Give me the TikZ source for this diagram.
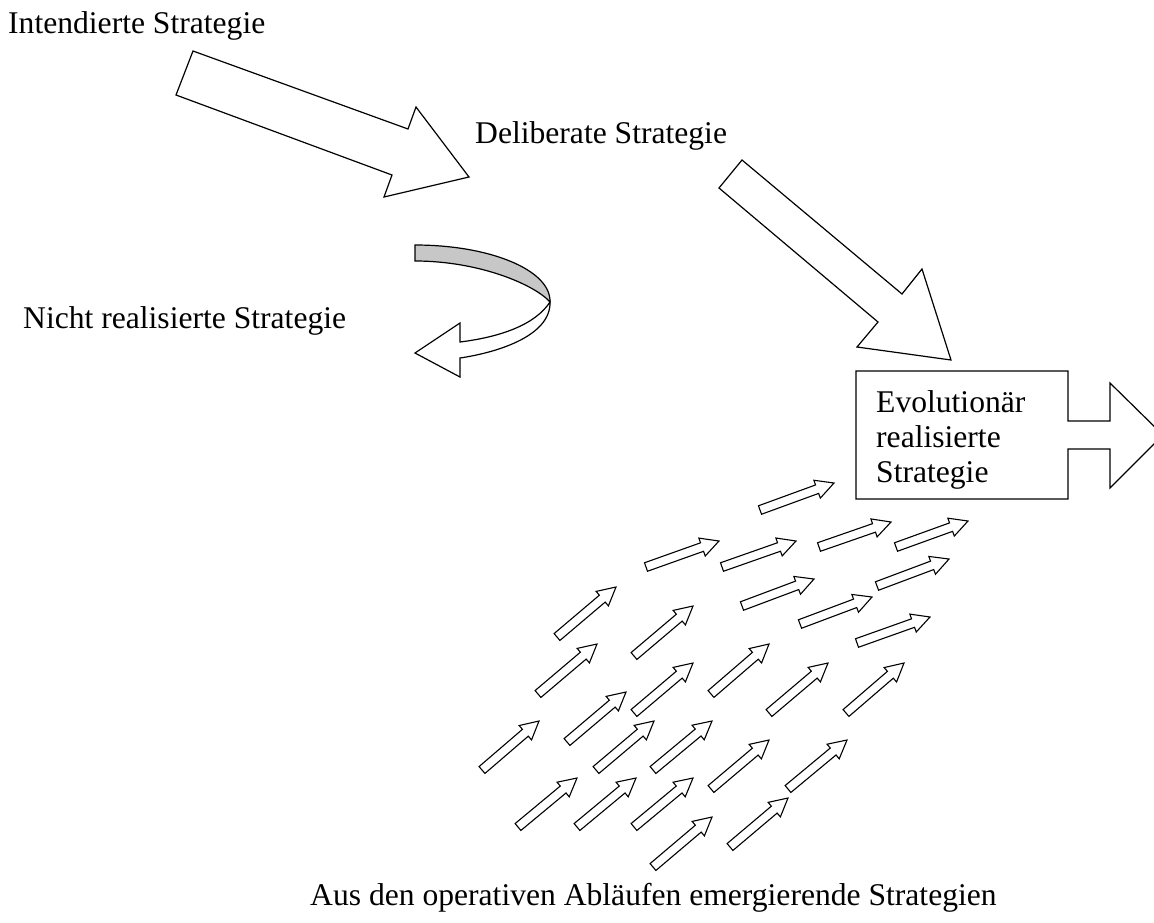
\documentclass[tikz,border=0pt]{standalone}
\usepackage{fontspec}
\setmainfont{Liberation Serif}
\newcommand{\oaArrow}[4]{%
  \pgfmathsetmacro{\oaDx}{#3-#1}%
  \pgfmathsetmacro{\oaDy}{#4-#2}%
  \pgfmathsetmacro{\oaLen}{veclen(\oaDx,\oaDy)}%
  \pgfmathsetmacro{\oaUx}{\oaDx/\oaLen}%
  \pgfmathsetmacro{\oaUy}{\oaDy/\oaLen}%
  \pgfmathsetmacro{\oaH}{\oaLen-18}%
  \draw[smallarrow]
    ({#1-4.5*\oaUy},{#2+4.5*\oaUx}) --
    ({#1+\oaH*\oaUx-4.5*\oaUy},{#2+\oaH*\oaUy+4.5*\oaUx}) --
    ({#1+\oaH*\oaUx-9.5*\oaUy},{#2+\oaH*\oaUy+9.5*\oaUx}) --
    (#3,#4) --
    ({#1+\oaH*\oaUx+9.5*\oaUy},{#2+\oaH*\oaUy-9.5*\oaUx}) --
    ({#1+\oaH*\oaUx+4.5*\oaUy},{#2+\oaH*\oaUy-4.5*\oaUx}) --
    ({#1+4.5*\oaUy},{#2-4.5*\oaUx}) -- cycle;}
\begin{document}
\begin{tikzpicture}[x=1pt,y=-1pt,
  outline/.style={draw=black,fill=white,line width=1.2pt,line join=miter},
  smallarrow/.style={draw=black,fill=white,line width=1.1pt,line join=miter},
  lbl/.style={inner sep=0pt,anchor=base west,font=\fontsize{31.6}{35}\selectfont}]
\useasboundingbox (0,0) rectangle (1154,922);
\fill[white] (0,0) rectangle (1154,922);
% labels
\node[lbl] (intended) at (8,33) {Intendierte Strategie};
\node[lbl] (deliberate) at (475,143) {Deliberate Strategie};
\node[lbl] (unrealised) at (23,328) {Nicht realisierte Strategie};
\node[lbl] (emergent) at (310,905) {Aus den operativen Abläufen emergierende Strategien};
% big arrow 1
\draw[outline] (193,51) -- (408,129) -- (416,107) -- (469,177) -- (384,197) -- (392,175) -- (176,95) -- cycle;
% big arrow 2
\draw[outline] (742,160) -- (902,294) -- (922,269) -- (951,360) -- (857,347) -- (878,322) -- (719,188) -- cycle;
% curved arrow
\draw[line width=1.2pt,fill=black!22] (415,245) .. controls (490,245) and (551,270) .. (550,302)
  .. controls (535,285) and (480,261) .. (415,261) -- cycle;
\draw[outline] (550,302) .. controls (551,335) and (500,352) .. (460,358) -- (460,377) -- (415,353)
  -- (460,323) -- (460,342) .. controls (500,337) and (535,325) .. (550,302) -- cycle;
% box with arrow
\draw[outline] (856,371) -- (1068,371) -- (1068,421) -- (1110,421) -- (1110,383) -- (1163,435)
  -- (1110,488) -- (1110,449) -- (1068,449) -- (1068,499) -- (856,499) -- cycle;
\begin{scope}
\clip (856,371) rectangle (1068,488);
\node[lbl] (evo1) at (876,412) {Evolutionär};
\node[lbl] (evo2) at (876,447) {realisierte};
\node[lbl] (evo3) at (876,482) {Strategie};
\end{scope}
% small arrows
\foreach \ax/\ay/\bx/\by in {
  760/510/834/483, 646/567/719/541, 722/567/796/541, 819/547/891/522,
  896/547/968/521, 742/606/814/579, 877/586/949/559, 800/624/872/597,
  857/643/930/617, 557/637/616/587, 634/656/693/606, 538/694/597/644,
  634/713/693/663, 711/694/769/644, 482/770/539/721, 567/742/626/692,
  769/713/828/663, 846/713/904/663, 596/770/654/721, 653/770/712/721,
  518/827/577/778, 577/827/636/778, 634/827/693/778, 711/789/769/740,
  788/789/847/740, 653/867/712/817, 730/847/788/798}
  {\oaArrow{\ax}{\ay}{\bx}{\by}}
\end{tikzpicture}
\end{document}
